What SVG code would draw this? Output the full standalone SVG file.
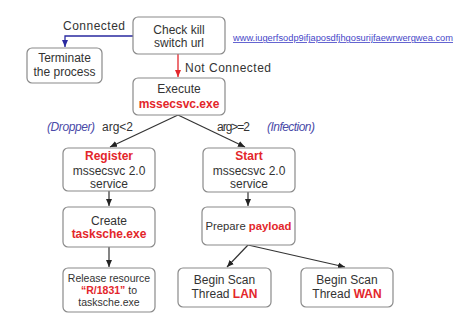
<svg xmlns="http://www.w3.org/2000/svg" width="457" height="315" viewBox="0 0 457 315">
<style>
.box{fill:#fff;stroke:#8a8a8a;stroke-width:1.2}
text{font-family:"Liberation Sans",Arial,sans-serif;font-size:12px;fill:#333;text-anchor:middle}
.r{fill:#e3262b;font-weight:bold}
.s{font-size:10.5px}
.lbl{text-anchor:start;font-size:12px}
.b{fill:#4a4aa8;font-style:italic}
.e{stroke:#333;stroke-width:1.2;fill:none;marker-end:url(#ah)}
</style>
<defs>
<marker id="ah" markerWidth="8" markerHeight="8" refX="7" refY="4" orient="auto" markerUnits="userSpaceOnUse"><path d="M0,1 L7,4 L0,7 z" fill="#222"/></marker>
<marker id="ahb" markerWidth="8" markerHeight="8" refX="7" refY="4" orient="auto" markerUnits="userSpaceOnUse"><path d="M0,1 L7,4 L0,7 z" fill="#2a2aa0"/></marker>
<marker id="ahr" markerWidth="8" markerHeight="8" refX="7" refY="4" orient="auto" markerUnits="userSpaceOnUse"><path d="M0,1 L7,4 L0,7 z" fill="#e3262b"/></marker>
</defs>
<rect width="457" height="315" fill="#fff"/>
<g id="connectors">
<path d="M133,36 H65 V47" stroke="#2a2aa0" stroke-width="1.3" fill="none" marker-end="url(#ahb)"/>
<path d="M178,54 V77" stroke="#e3262b" stroke-width="1.3" fill="none" marker-end="url(#ahr)"/>
<path class="e" d="M178,115 L110,147"/>
<path class="e" d="M178,115 L245,147"/>
<path class="e" d="M109,191 V206"/>
<path class="e" d="M109,247 V267"/>
<path class="e" d="M248,192 V206"/>
<path class="e" d="M248,245 L227,267"/>
<path class="e" d="M248,245 L345,267"/>
<text class="lbl" x="63" y="30" textLength="62">Connected</text>
<text class="lbl" x="185" y="72" textLength="86">Not Connected</text>
<text class="lbl b" x="47" y="131" textLength="48">(Dropper)</text>
<text class="lbl" x="102" y="131" textLength="31">arg&lt;2</text>
<text class="lbl" x="217" y="131" textLength="33">arg&gt;=2</text>
<text class="lbl b" x="267" y="131" textLength="48">(Infection)</text>
</g>
<g id="url"><text x="233" y="41" style="text-anchor:start;font-size:8.3px;fill:#4646c8;text-decoration:underline" textLength="220" lengthAdjust="spacingAndGlyphs">www.iugerfsodp9ifjaposdfjhgosurijfaewrwergwea.com</text></g>
<g id="check"><rect class="box" x="133" y="17" width="92" height="37" rx="5"/><text x="179" y="34">Check kill</text><text x="179" y="47">switch url</text></g>
<g id="terminate"><rect class="box" x="27" y="48" width="75" height="35" rx="5"/><text x="64.5" y="62">Terminate</text><text x="64.5" y="76">the process</text></g>
<g id="execute"><rect class="box" x="133" y="78" width="92" height="37" rx="5"/><text x="179" y="93">Execute</text><text class="r" x="179" y="108">mssecsvc.exe</text></g>
<g id="register"><rect class="box" x="63" y="148" width="92" height="43" rx="5"/><text class="r" x="109" y="160">Register</text><text x="109" y="175">mssecsvc 2.0</text><text x="109" y="188">service</text></g>
<g id="start"><rect class="box" x="203" y="148" width="92" height="44" rx="5"/><text class="r" x="249" y="160">Start</text><text x="249" y="175">mssecsvc 2.0</text><text x="249" y="188">service</text></g>
<g id="create"><rect class="box" x="63" y="207" width="92" height="40" rx="5"/><text x="109" y="225">Create</text><text class="r" x="109" y="238">tasksche.exe</text></g>
<g id="prepare"><rect class="box" x="202" y="207" width="93" height="38" rx="5"/><text style="font-size:11.3px" x="248.5" y="230">Prepare <tspan class="r">payload</tspan></text></g>
<g id="release"><rect class="box" x="63" y="268" width="92" height="44" rx="5"/><text class="s" x="109" y="282">Release resource</text><text class="s" x="109" y="294"><tspan class="r">“R/1831”</tspan> to</text><text class="s" x="109" y="306">tasksche.exe</text></g>
<g id="lan"><rect class="box" x="178" y="268" width="93" height="39" rx="5"/><text x="224.5" y="284">Begin Scan</text><text x="224.5" y="298">Thread <tspan class="r">LAN</tspan></text></g>
<g id="wan"><rect class="box" x="301" y="268" width="92" height="39" rx="5"/><text x="347" y="284">Begin Scan</text><text x="347" y="298">Thread <tspan class="r">WAN</tspan></text></g>
</svg>
